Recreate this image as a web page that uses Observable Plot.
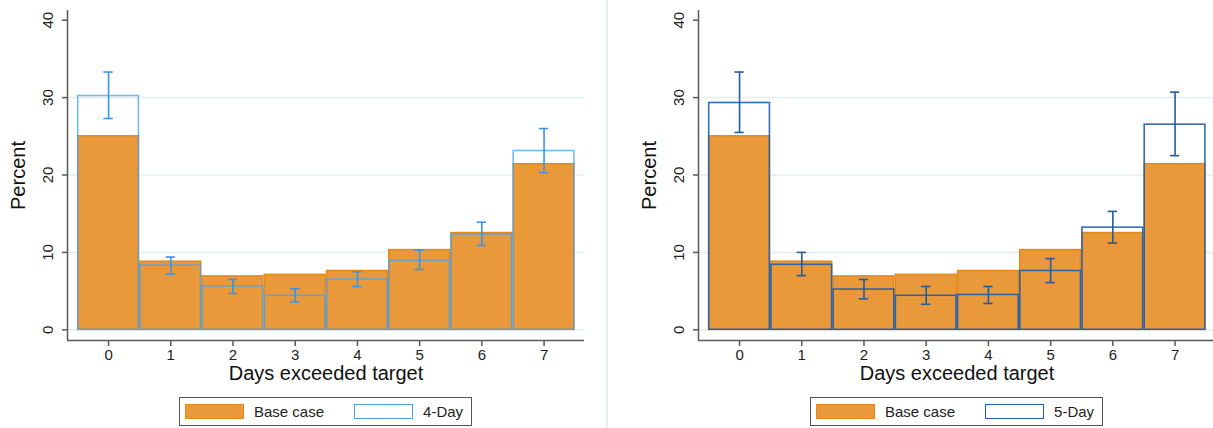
<!DOCTYPE html>
<html>
<head>
<meta charset="utf-8">
<script src="https://cdn.jsdelivr.net/npm/d3@7"></script>
<script src="https://cdn.jsdelivr.net/npm/@observablehq/plot@0.6"></script>
<style>
  html, body { margin: 0; padding: 0; background: #fff; overflow: hidden; width: 1213px; height: 428px; }
  body { position: relative; font-family: "Liberation Sans", Arial, Helvetica, sans-serif; }
  .panel { position: absolute; top: 0; width: 606px; height: 428px; }
  .sep { position: absolute; left: 606px; top: 0; width: 1.5px; height: 428px; background: #e6eef1; }
  .legend { position: absolute; top: 397px; left: 179px; height: 29px; border: 1px solid #555; box-sizing: border-box;
            display: flex; align-items: center; font-size: 15px; color: #222; padding: 0 8px 0 5px; background: #fff; }
  .sw { width: 59px; height: 15px; box-sizing: border-box; }
  .lab { margin-left: 10px; white-space: nowrap; }
</style>
</head>
<body>
<div class="sep"></div>
<div class="panel" id="p1"></div>
<div class="panel" id="p2" style="left:631px"></div>
<script>
// ---- data ----
const days = [0, 1, 2, 3, 4, 5, 6, 7];
const baseCase = [25.0, 8.8, 6.9, 7.1, 7.6, 10.3, 12.5, 21.4];
const fourDay   = [30.2, 8.3, 5.6, 4.4, 6.5, 8.9, 12.3, 23.1];
const fourDayLo = [27.3, 7.2, 4.7, 3.6, 5.6, 7.8, 10.9, 20.3];
const fourDayHi = [33.3, 9.4, 6.5, 5.3, 7.5, 10.3, 13.9, 26.0];
const fiveDay   = [29.3, 8.4, 5.2, 4.4, 4.5, 7.6, 13.2, 26.5];
const fiveDayLo = [25.5, 7.0, 4.0, 3.3, 3.4, 6.1, 11.2, 22.5];
const fiveDayHi = [33.3, 10.0, 6.5, 5.6, 5.6, 9.2, 15.3, 30.7];
const yTicks = [0, 10, 20, 30, 40];
const gridTicks = [0, 10, 20, 30];
const seriesNames = ["Base case", "4-Day", "5-Day"];
const xTitle = "Days exceeded target";
const yTitle = "Percent";

const orangeFill = "#e9993a", orangeStroke = "#e2891a";
const xDomain = [-0.66, 7.65];
const yDomain = [-1.38, 41.25];
const capHalf = 0.075;

function panel(el, comp, lo, hi, name, strokeCol, strokeOp, errCol) {
  const base = days.map((d, i) => ({day: d, v: baseCase[i]}));
  const cmp = days.map((d, i) => ({day: d, v: comp[i], lo: lo[i], hi: hi[i]}));
  const chart = Plot.plot({
    width: 606, height: 390,
    marginLeft: 67, marginRight: 22, marginTop: 10, marginBottom: 50,
    style: {fontFamily: '"Liberation Sans", Arial, Helvetica, sans-serif', background: "transparent", overflow: "visible"},
    x: {domain: xDomain, axis: null},
    y: {domain: yDomain, axis: null},
    marks: [
      Plot.ruleY(gridTicks, {stroke: "#e4eef2", strokeWidth: 1.5}),
      Plot.rectY(base, {x1: d => d.day - 0.5, x2: d => d.day + 0.5, y1: 0, y2: "v", fill: orangeFill, stroke: orangeStroke, strokeWidth: 1.5, insetLeft: 0.75, insetRight: 0.75}),
      Plot.rectY(cmp, {x1: d => d.day - 0.5, x2: d => d.day + 0.5, y1: 0, y2: "v", fill: "none", stroke: strokeCol, strokeOpacity: strokeOp, strokeWidth: 1.6, insetLeft: 0.75, insetRight: 0.75}),
      Plot.ruleX(cmp, {x: "day", y1: "lo", y2: "hi", stroke: errCol, strokeWidth: 1.6}),
      Plot.ruleY(cmp, {y: "lo", x1: d => d.day - capHalf, x2: d => d.day + capHalf, stroke: errCol, strokeWidth: 1.6}),
      Plot.ruleY(cmp, {y: "hi", x1: d => d.day - capHalf, x2: d => d.day + capHalf, stroke: errCol, strokeWidth: 1.6}),
      // axes
      Plot.ruleX([xDomain[0]], {stroke: "#5a5a5a", strokeWidth: 1.5}),
      Plot.ruleY([yDomain[0]], {stroke: "#5a5a5a", strokeWidth: 1.5}),
      Plot.axisY({ticks: yTicks, tickSize: 5, tickFormat: () => "", label: null, stroke: "#5a5a5a", strokeWidth: 1.5}),
      Plot.text(yTicks, {y: d => d, frameAnchor: "left", text: d => String(d), rotate: -90, dx: -19, fontSize: 15, fill: "#222", textAnchor: "middle", lineAnchor: "middle"}),
      Plot.axisX({ticks: days, tickSize: 6, tickPadding: 3, fontSize: 15, label: null, stroke: "#5a5a5a", strokeWidth: 1.5, color: "#222"}),
      Plot.text([yTitle], {frameAnchor: "left", rotate: -90, dx: -49, fontSize: 20, fill: "#111", textAnchor: "middle", lineAnchor: "middle"}),
      Plot.text([xTitle], {frameAnchor: "bottom", dy: 33, fontSize: 20, fill: "#111", textAnchor: "middle", lineAnchor: "middle"})
    ]
  });
  el.appendChild(chart);
  const lg = document.createElement("div");
  lg.className = "legend";
  lg.innerHTML =
    `<div class="sw" style="background:${orangeFill};border:1.5px solid ${orangeStroke}"></div>` +
    `<span class="lab">${seriesNames[0]}</span>` +
    `<div class="sw" style="margin-left:30px;background:#fff;border:1.5px solid ${strokeCol}"></div>` +
    `<span class="lab">${name}</span>`;
  el.appendChild(lg);
}

panel(document.getElementById("p1"), fourDay, fourDayLo, fourDayHi, seriesNames[1], "#4aa0ee", 0.75, "#3a94e8");
panel(document.getElementById("p2"), fiveDay, fiveDayLo, fiveDayHi, seriesNames[2], "#1d5fae", 0.9, "#245c9e");
</script>
</body>
</html>
